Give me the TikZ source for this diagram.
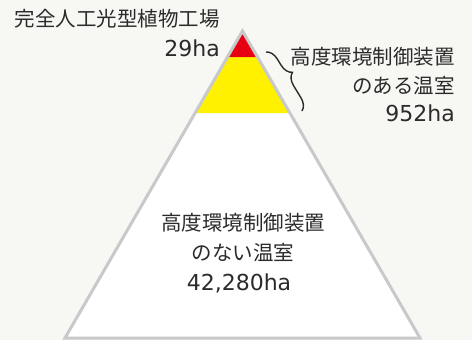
\documentclass[tikz,border=0pt]{standalone}
\usepackage{fontspec}
\setmainfont{Noto Sans CJK JP}
\newfontfamily\numfont{DejaVu Sans}
\usetikzlibrary{decorations.pathreplacing}
\definecolor{bgc}{HTML}{F7F8F3}
\definecolor{redc}{HTML}{E60012}
\definecolor{yelc}{HTML}{FFF100}
\definecolor{grayc}{HTML}{C8C9CA}
\definecolor{txt}{HTML}{2B2B2B}
\tikzset{
  lbl/.style={text=txt, font=\fontsize{20.5}{23}\selectfont, inner sep=0pt},
  num/.style={text=txt, font=\numfont\fontsize{22}{24}\selectfont, inner sep=0pt},
}
\begin{document}
\begin{tikzpicture}[x=1pt,y=-1pt]
\fill[bgc] (0,0) rectangle (472,340);
\useasboundingbox (0,0) rectangle (472,340);
% layers
\coordinate (apex) at (242.5,31);
\coordinate (bl) at (65,338);
\coordinate (br) at (420,338);
\fill[white] (apex) -- (bl) -- (br) -- cycle;
\fill[yelc] (apex) -- (195,113) -- (290,113) -- cycle;
\fill[redc] (apex) -- (227.5,57) -- (257.5,57) -- cycle;
\draw[grayc, line width=3pt, line join=miter] (apex) -- (bl) -- (br) -- cycle;
% brace
\coordinate (b1) at (266,52);
\coordinate (b2) at (302,111);
\draw[txt, line width=1.4pt, decorate, decoration={brace, amplitude=12pt, aspect=0.45}] (b1) -- (b2);
% labels
\node[lbl, anchor=east] (t1) at (220,19) {完全人工光型植物工場};
\node[num, anchor=east] (n1) at (220,48) {29ha};
\node[lbl, anchor=east] (t2) at (455,57) {高度環境制御装置};
\node[lbl, anchor=east] (t3) at (455,86) {のある温室};
\node[num, anchor=east] (n2) at (455,113) {952ha};
\node[lbl] (t4) at (243,223) {高度環境制御装置};
\node[lbl] (t5) at (243,253) {のない温室};
\node[num] (n3) at (239,283) {42,280ha};
\end{tikzpicture}
\end{document}
